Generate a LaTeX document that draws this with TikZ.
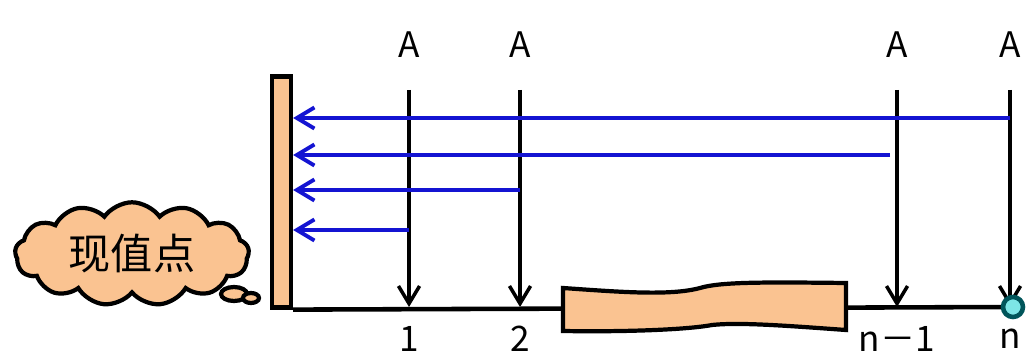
\documentclass[tikz,border=0pt]{standalone}
\usepackage{fontspec}
\newfontfamily\cjk{Noto Sans CJK SC}
\usetikzlibrary{arrows.meta,shapes.symbols}
\definecolor{tanfill}{RGB}{250,195,145}
\definecolor{ballfill}{RGB}{125,230,230}
\definecolor{balledge}{RGB}{0,85,90}
\definecolor{flowblue}{RGB}{20,20,210}
\tikzset{
  pay/.style={line width=2.6pt, -{Straight Barb[length=10pt,width=12pt,line width=2pt]}},
  back/.style={flowblue, line width=2.8pt, -{Straight Barb[length=10pt,width=12pt,line width=2.2pt]}},
  lab/.style={font=\cjk\fontsize{20}{20}\selectfont, inner sep=0pt}
}
\begin{document}
\begin{tikzpicture}[x=0.02cm,y=0.02cm]
    \useasboundingbox (0,0) rectangle (1033,358);
    % linea dei tempi
    \node[draw, line width=2.4pt, fill=tanfill, minimum width=19*0.02cm, minimum height=231*0.02cm, inner sep=0pt] (wall) at (281.5,166) {};
    \coordinate (end) at (1013,51);
    \draw[line width=2.6pt] (wall.south east) -- (end);
    % tratto interrotto
    \draw[line width=2.4pt, fill=tanfill] (563,70) .. controls (620,66) and (670,62) .. (700,70)
      .. controls (720,76) and (760,76) .. (846,75) -- (846,28)
      .. controls (790,32) and (740,36) .. (712,33) .. controls (685,28) and (620,26) .. (563,27) -- cycle;
    % rate A
    \foreach \nm/\x/\t in {1/409/1, 2/520/2, 3/897/{n－1}, 4/1010/n} {
      \node[lab] (A\nm) at (\x,313) {A};
      \coordinate (top\nm) at (\x,268);
      \coordinate (bot\nm) at (\x,51);
      \node[lab] (t\nm) at (\x,19) {\t};
      \draw[pay] (top\nm) -- (bot\nm);
    }
    \fill[ballfill, draw=balledge, line width=2.6pt] (end) circle (10);
    % attualizzazione
    \draw[back] (1010,240) -- (wall.east |- 1010,240);
    \draw[back] (890,203) -- (wall.east |- 890,203);
    \draw[back] (520,168) -- (wall.east |- 520,168);
    \draw[back] (409,128) -- (wall.east |- 409,128);
    % nuvola
    \node[cloud, cloud puffs=13, cloud puff arc=110, aspect=2.4, draw, line width=2.4pt, fill=tanfill,
      minimum width=234*0.02cm, minimum height=94*0.02cm, font=\cjk\fontsize{24}{24}\selectfont] (pv) at (132,104) {现值点};
    \draw[line width=2.4pt, fill=tanfill] (234,64) ellipse (13 and 7);
    \draw[line width=2.4pt, fill=tanfill] (251,60) ellipse (8 and 5);
\end{tikzpicture}
\end{document}
